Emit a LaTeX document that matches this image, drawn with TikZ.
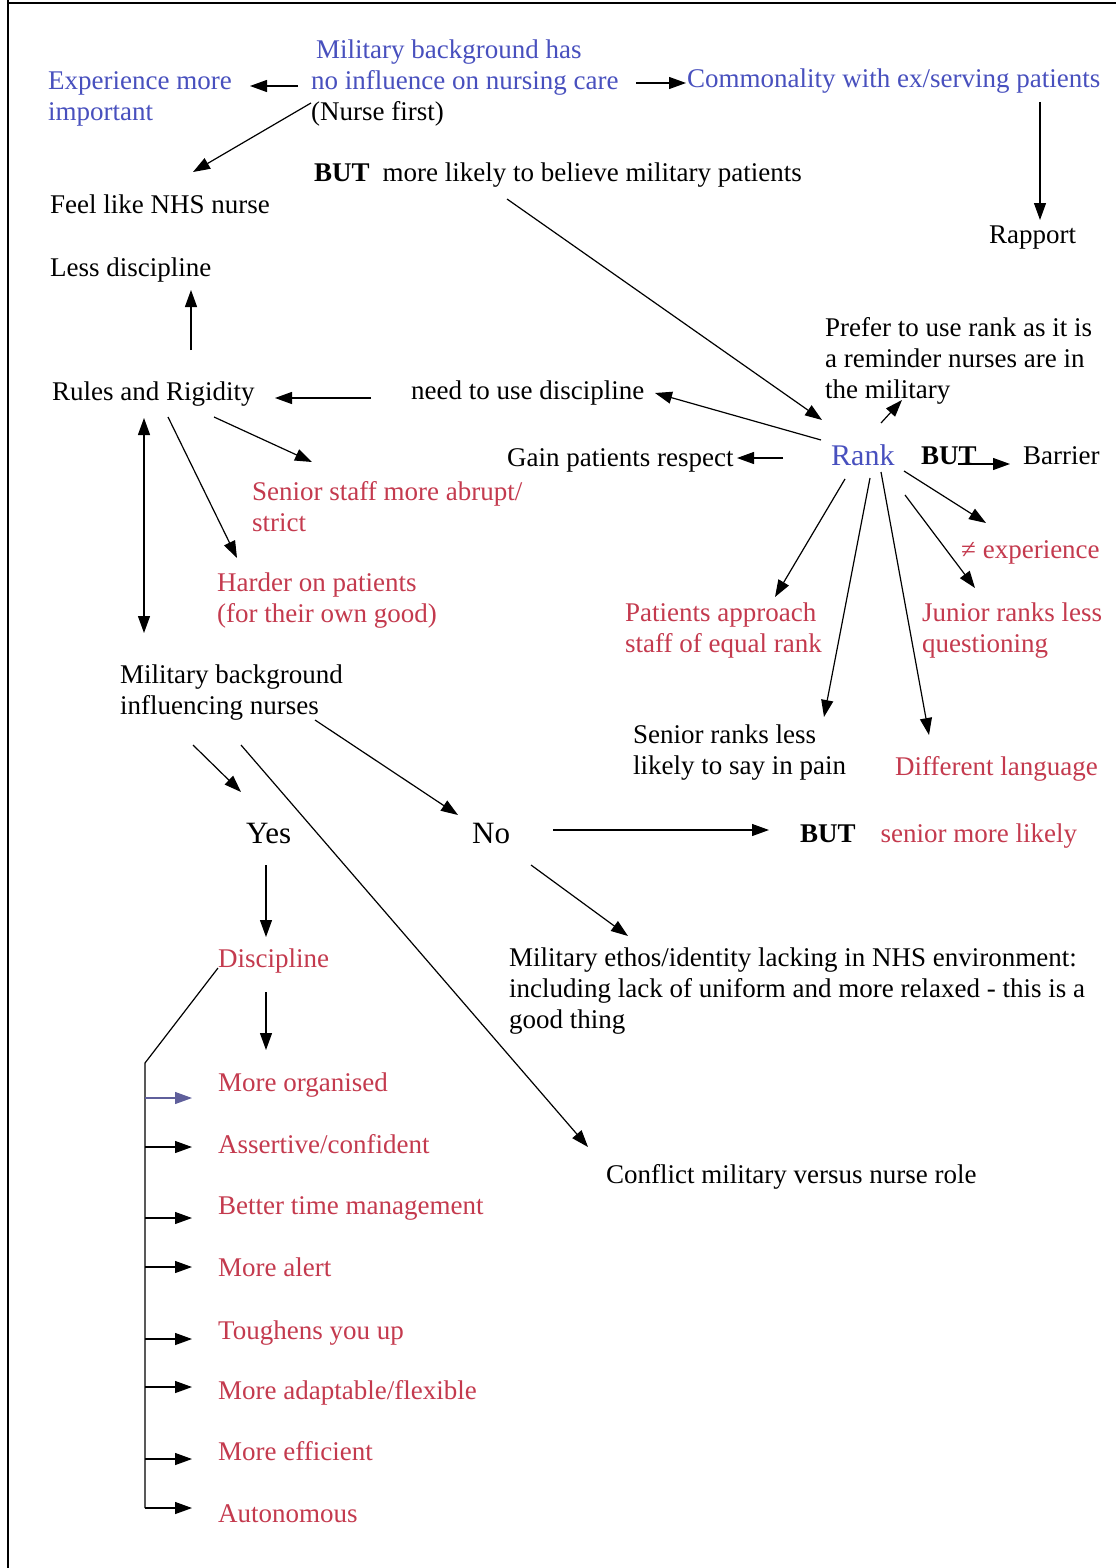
\documentclass[tikz,border=0pt]{standalone}
\usepackage{fontspec}
\setmainfont{Liberation Serif}
\usetikzlibrary{arrows.meta}
\definecolor{bl}{RGB}{72,80,190}
\definecolor{rd}{RGB}{196,58,78}
\definecolor{pu}{RGB}{95,95,155}
\begin{document}
\begin{tikzpicture}[x=1pt,y=-1pt,
  txt/.style={anchor=base west, inner sep=0pt, font=\fontsize{27}{31}\selectfont, align=left},
  big/.style={txt, font=\fontsize{31}{35}\selectfont},
  blt/.style={txt, text=bl},
  rdt/.style={txt, text=rd},
  arr/.style={line width=1.2pt, -{Triangle[length=17pt,width=12pt]}},
  dbl/.style={line width=1.2pt, {Triangle[length=17pt,width=12pt]}-{Triangle[length=17pt,width=12pt]}},
  ln/.style={line width=1.2pt}]
\useasboundingbox (0,0) rectangle (1116,1568);
\fill[white] (0,0) rectangle (1116,1568);
% page border
\draw[line width=2pt] (8,3) -- (1116,3);
\draw[line width=2pt] (8,0) -- (8,1568);

% ---------- nodes (multi-line nodes are placed by the baseline of their last line) ----------
\node[txt] (mil) at (311,121) {\textcolor{bl}{\hspace{5pt}Military background has}\\ \textcolor{bl}{no influence on nursing care}\\ (Nurse first)};
\node[blt] (exp) at (48,121) {Experience more\\important};
\node[blt] (comm) at (687,88) {Commonality with ex/serving patients};
\node[txt] (rapport) at (989,243) {Rapport};
\node[txt] (but1) at (314,181) {\textbf{BUT}\hspace{13pt}more likely to believe military patients};
\node[txt] (feel) at (50,213) {Feel like NHS nurse};
\node[txt] (less) at (50,276) {Less discipline};
\node[txt] (prefer) at (825,398) {Prefer to use rank as it is\\a reminder nurses are in\\the military};
\node[txt] (rules) at (52,400) {Rules and Rigidity};
\node[txt] (need) at (411,399) {need to use discipline};
\node[txt] (gain) at (507,466) {Gain patients respect};
\node[txt, font=\fontsize{30}{34}\selectfont, text=bl] (rank) at (831,465) {Rank};
\node[txt] (butR) at (921,464) {\textbf{BUT}};
\node[txt] (barrier) at (1023,464) {Barrier};
\node[rdt] (senstaff) at (252,531) {Senior staff more abrupt/\\strict};
\node[rdt] (neq) at (961,558) {≠ experience};
\node[rdt] (harder) at (217,622) {Harder on patients\\(for their own good)};
\node[rdt] (patients) at (625,652) {Patients approach\\staff of equal rank};
\node[rdt] (junior) at (922,652) {Junior ranks less\\questioning};
\node[txt] (milbg) at (120,714) {Military background\\influencing nurses};
\node[txt] (seniorR) at (633,774) {Senior ranks less\\likely to say in pain};
\node[rdt] (difflang) at (895,775) {Different language};
\node[big] (yes) at (246,843) {Yes};
\node[big] (no) at (472,843) {No};
\node[txt] (butN) at (800,842) {\textbf{BUT}\hspace{25pt}\textcolor{rd}{senior more likely}};
\node[rdt] (disc) at (218,967) {Discipline};
\node[txt] (ethos) at (509,1028) {Military ethos/identity lacking in NHS environment:\\including lack of uniform and more relaxed - this is a\\good thing};
\node[txt] (conflict) at (606,1183) {Conflict military versus nurse role};
\node[rdt] (l1) at (218,1091) {More organised};
\node[rdt] (l2) at (218,1153) {Assertive/confident};
\node[rdt] (l3) at (218,1214) {Better time management};
\node[rdt] (l4) at (218,1276) {More alert};
\node[rdt] (l5) at (218,1339) {Toughens you up};
\node[rdt] (l6) at (218,1399) {More adaptable/flexible};
\node[rdt] (l7) at (218,1460) {More efficient};
\node[rdt] (l8) at (218,1522) {Autonomous};

% ---------- connector end points ----------
\coordinate (s1) at (298,86);  \coordinate (t1) at (250,86);
\coordinate (s2) at (636,83);  \coordinate (t2) at (686,83);
\coordinate (s3) at (1040,102); \coordinate (t3) at (1040,220);
\coordinate (s4) at (311,103); \coordinate (t4) at (193,172);
\coordinate (s5) at (191,350); \coordinate (t5) at (191,290);
\coordinate (s6) at (507,199); \coordinate (t6) at (822,420);
\coordinate (s7) at (371,398); \coordinate (t7) at (275,398);
\coordinate (s8) at (821,440); \coordinate (t8) at (655,393);
\coordinate (s9) at (881,423); \coordinate (t9) at (902,400);
\coordinate (s10) at (783,458); \coordinate (t10) at (737,458);
\coordinate (s11) at (958,464); \coordinate (t11) at (1010,464);
\coordinate (s12) at (904,471); \coordinate (t12) at (986,523);
\coordinate (s13) at (905,495); \coordinate (t13) at (975,588);
\coordinate (s14) at (845,479); \coordinate (t14) at (775,597);
\coordinate (s15) at (870,478); \coordinate (t15) at (824,717);
\coordinate (s16) at (881,472); \coordinate (t16) at (929,735);
\coordinate (s17) at (214,417); \coordinate (t17) at (312,462);
\coordinate (s18) at (168,417); \coordinate (t18) at (237,558);
\coordinate (s19) at (193,745); \coordinate (t19) at (241,792);
\coordinate (s20) at (241,745); \coordinate (t20) at (588,1147);
\coordinate (s21) at (315,720); \coordinate (t21) at (458,815);
\coordinate (s22) at (553,830); \coordinate (t22) at (769,830);
\coordinate (s23) at (531,865); \coordinate (t23) at (628,936);
\coordinate (s24) at (266,865); \coordinate (t24) at (266,937);
\coordinate (s25) at (266,992); \coordinate (t25) at (266,1050);
\coordinate (dA) at (144,418); \coordinate (dB) at (144,633);
\coordinate (bk0) at (218,968); \coordinate (bk1) at (145,1063); \coordinate (bk2) at (145,1508);

\foreach \i in {1,...,25} \draw[arr] (s\i) -- (t\i);
\draw[dbl] (dA) -- (dB);
\draw[ln] (bk0) -- (bk1) -- (bk2);
\draw[arr, draw=pu, fill=pu] (145,1098) -- (192,1098);
\foreach \y in {1147,1218,1267,1339,1387,1459,1508}
  \draw[arr] (145,\y) -- (192,\y);
\end{tikzpicture}
\end{document}
